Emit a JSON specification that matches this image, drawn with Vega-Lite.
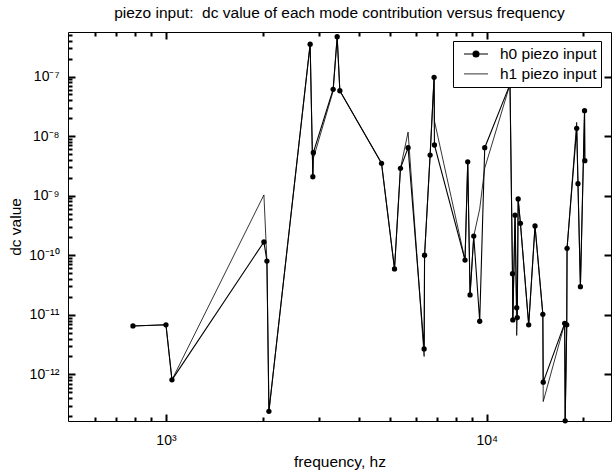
{
  "$schema": "https://vega.github.io/schema/vega-lite/v6.json",
  "width": 543,
  "height": 389,
  "autosize": {"type": "none"},
  "padding": {"left": 68, "top": 32, "right": 1, "bottom": 54},
  "background": "white",
  "config": {
    "font": "Liberation Sans",
    "view": {"stroke": "black", "strokeWidth": 1},
    "axis": {"grid": false, "domain": false, "tickColor": "#000000", "tickWidth": 2, "tickOpacity": 1, "labelColor": "black", "titleColor": "black", "labelFont": "Liberation Sans", "titleFont": "Liberation Sans", "labelFontSize": 14, "titleFontSize": 15.5, "titleFontWeight": "normal", "labelFlush": false, "labelOverlap": false}
  },
  "title": {"text": "piezo input: \u00a0dc value of each mode contribution versus frequency", "fontSize": 15.5, "fontWeight": "normal", "font": "Liberation Sans", "color": "black", "offset": 10},
  "data": {"values": [
    {"series": "h0 piezo input", "i": 1, "f": 789, "v": 6.5e-12},
    {"series": "h0 piezo input", "i": 2, "f": 1000, "v": 6.8e-12},
    {"series": "h0 piezo input", "i": 3, "f": 1044, "v": 8.1e-13},
    {"series": "h0 piezo input", "i": 4, "f": 2020, "v": 1.67e-10},
    {"series": "h0 piezo input", "i": 5, "f": 2064, "v": 8.0e-11},
    {"series": "h0 piezo input", "i": 6, "f": 2094, "v": 2.4e-13},
    {"series": "h0 piezo input", "i": 7, "f": 2815, "v": 3.5e-7},
    {"series": "h0 piezo input", "i": 8, "f": 2870, "v": 2.08e-9},
    {"series": "h0 piezo input", "i": 9, "f": 2880, "v": 5.27e-9},
    {"series": "h0 piezo input", "i": 10, "f": 3320, "v": 6.1e-8},
    {"series": "h0 piezo input", "i": 11, "f": 3418, "v": 4.66e-7},
    {"series": "h0 piezo input", "i": 12, "f": 3484, "v": 5.78e-8},
    {"series": "h0 piezo input", "i": 13, "f": 4699, "v": 3.5e-9},
    {"series": "h0 piezo input", "i": 14, "f": 5158, "v": 5.9e-11},
    {"series": "h0 piezo input", "i": 15, "f": 5383, "v": 2.88e-9},
    {"series": "h0 piezo input", "i": 16, "f": 5686, "v": 6.4e-9},
    {"series": "h0 piezo input", "i": 17, "f": 6380, "v": 2.68e-12},
    {"series": "h0 piezo input", "i": 18, "f": 6400, "v": 1.0e-10},
    {"series": "h0 piezo input", "i": 19, "f": 6660, "v": 4.8e-9},
    {"series": "h0 piezo input", "i": 20, "f": 6853, "v": 9.7e-8},
    {"series": "h0 piezo input", "i": 21, "f": 6870, "v": 7.1e-9},
    {"series": "h0 piezo input", "i": 22, "f": 8557, "v": 8.3e-11},
    {"series": "h0 piezo input", "i": 23, "f": 8725, "v": 3.7e-9},
    {"series": "h0 piezo input", "i": 24, "f": 8872, "v": 2.16e-11},
    {"series": "h0 piezo input", "i": 25, "f": 9110, "v": 2.1e-10},
    {"series": "h0 piezo input", "i": 26, "f": 9508, "v": 7.8e-12},
    {"series": "h0 piezo input", "i": 27, "f": 9857, "v": 6.4e-9},
    {"series": "h0 piezo input", "i": 28, "f": 11818, "v": 7.4e-8},
    {"series": "h0 piezo input", "i": 29, "f": 12030, "v": 4.9e-11},
    {"series": "h0 piezo input", "i": 30, "f": 12060, "v": 8.2e-12},
    {"series": "h0 piezo input", "i": 31, "f": 12254, "v": 4.7e-10},
    {"series": "h0 piezo input", "i": 32, "f": 12400, "v": 1.32e-11},
    {"series": "h0 piezo input", "i": 33, "f": 12450, "v": 9.0e-12},
    {"series": "h0 piezo input", "i": 34, "f": 12530, "v": 8.8e-10},
    {"series": "h0 piezo input", "i": 35, "f": 12735, "v": 3.44e-10},
    {"series": "h0 piezo input", "i": 36, "f": 13515, "v": 6.8e-12},
    {"series": "h0 piezo input", "i": 37, "f": 14142, "v": 3.1e-10},
    {"series": "h0 piezo input", "i": 38, "f": 14960, "v": 1.02e-11},
    {"series": "h0 piezo input", "i": 39, "f": 15000, "v": 7.4e-13},
    {"series": "h0 piezo input", "i": 40, "f": 17500, "v": 7.2e-12},
    {"series": "h0 piezo input", "i": 41, "f": 17560, "v": 1.66e-13},
    {"series": "h0 piezo input", "i": 42, "f": 17760, "v": 6.8e-12},
    {"series": "h0 piezo input", "i": 43, "f": 17800, "v": 1.31e-10},
    {"series": "h0 piezo input", "i": 44, "f": 19075, "v": 1.35e-8},
    {"series": "h0 piezo input", "i": 45, "f": 19250, "v": 1.59e-9},
    {"series": "h0 piezo input", "i": 46, "f": 19590, "v": 2.97e-11},
    {"series": "h0 piezo input", "i": 47, "f": 20180, "v": 2.67e-8},
    {"series": "h0 piezo input", "i": 48, "f": 20220, "v": 3.87e-9},
    {"series": "h1 piezo input", "i": 1, "f": 789, "v": 6.5e-12},
    {"series": "h1 piezo input", "i": 2, "f": 1000, "v": 6.8e-12},
    {"series": "h1 piezo input", "i": 3, "f": 1044, "v": 8.1e-13},
    {"series": "h1 piezo input", "i": 4, "f": 2020, "v": 1.03e-9},
    {"series": "h1 piezo input", "i": 5, "f": 2064, "v": 8.0e-11},
    {"series": "h1 piezo input", "i": 6, "f": 2094, "v": 2.4e-13},
    {"series": "h1 piezo input", "i": 7, "f": 2815, "v": 3.5e-7},
    {"series": "h1 piezo input", "i": 8, "f": 2870, "v": 2.08e-9},
    {"series": "h1 piezo input", "i": 9, "f": 2880, "v": 4.2e-9},
    {"series": "h1 piezo input", "i": 10, "f": 3320, "v": 5.7e-8},
    {"series": "h1 piezo input", "i": 11, "f": 3418, "v": 4.66e-7},
    {"series": "h1 piezo input", "i": 12, "f": 3484, "v": 5.78e-8},
    {"series": "h1 piezo input", "i": 13, "f": 4699, "v": 3.5e-9},
    {"series": "h1 piezo input", "i": 14, "f": 5158, "v": 5.9e-11},
    {"series": "h1 piezo input", "i": 15, "f": 5383, "v": 2.88e-9},
    {"series": "h1 piezo input", "i": 16, "f": 5686, "v": 1.17e-8},
    {"series": "h1 piezo input", "i": 17, "f": 6380, "v": 2.0e-12},
    {"series": "h1 piezo input", "i": 18, "f": 6400, "v": 1.0e-10},
    {"series": "h1 piezo input", "i": 19, "f": 6660, "v": 4.8e-9},
    {"series": "h1 piezo input", "i": 20, "f": 6853, "v": 9.7e-8},
    {"series": "h1 piezo input", "i": 21, "f": 6870, "v": 1.8e-8},
    {"series": "h1 piezo input", "i": 22, "f": 8557, "v": 8.3e-11},
    {"series": "h1 piezo input", "i": 23, "f": 8725, "v": 3.7e-9},
    {"series": "h1 piezo input", "i": 24, "f": 8872, "v": 2.16e-11},
    {"series": "h1 piezo input", "i": 25, "f": 9110, "v": 2.1e-10},
    {"series": "h1 piezo input", "i": 26, "f": 9508, "v": 6.0e-10},
    {"series": "h1 piezo input", "i": 27, "f": 9857, "v": 2.9e-9},
    {"series": "h1 piezo input", "i": 28, "f": 11818, "v": 7.4e-8},
    {"series": "h1 piezo input", "i": 29, "f": 12030, "v": 4.9e-11},
    {"series": "h1 piezo input", "i": 30, "f": 12060, "v": 8.2e-12},
    {"series": "h1 piezo input", "i": 31, "f": 12254, "v": 4.7e-10},
    {"series": "h1 piezo input", "i": 32, "f": 12400, "v": 4.5e-12},
    {"series": "h1 piezo input", "i": 33, "f": 12450, "v": 9.0e-12},
    {"series": "h1 piezo input", "i": 34, "f": 12530, "v": 8.8e-10},
    {"series": "h1 piezo input", "i": 35, "f": 12735, "v": 3.44e-10},
    {"series": "h1 piezo input", "i": 36, "f": 13515, "v": 6.8e-12},
    {"series": "h1 piezo input", "i": 37, "f": 14142, "v": 3.1e-10},
    {"series": "h1 piezo input", "i": 38, "f": 14960, "v": 1.02e-11},
    {"series": "h1 piezo input", "i": 39, "f": 15000, "v": 3.5e-13},
    {"series": "h1 piezo input", "i": 40, "f": 17500, "v": 7.2e-12},
    {"series": "h1 piezo input", "i": 41, "f": 17560, "v": 1.66e-13},
    {"series": "h1 piezo input", "i": 42, "f": 17760, "v": 6.8e-12},
    {"series": "h1 piezo input", "i": 43, "f": 17800, "v": 1.31e-10},
    {"series": "h1 piezo input", "i": 44, "f": 19075, "v": 1.7e-8},
    {"series": "h1 piezo input", "i": 45, "f": 19250, "v": 1.59e-9},
    {"series": "h1 piezo input", "i": 46, "f": 19590, "v": 2.97e-11},
    {"series": "h1 piezo input", "i": 47, "f": 20180, "v": 2.67e-8},
    {"series": "h1 piezo input", "i": 48, "f": 20220, "v": 3.87e-9}
  ]},
  "layer": [
    {
      "mark": {"type": "line"},
      "encoding": {
        "x": {"field": "f", "type": "quantitative",
          "scale": {"type": "log", "domain": [495, 24400], "nice": false},
          "axis": {"orient": "bottom", "title": "frequency, hz", "titlePadding": 7,
            "values": [1000, 10000], "offset": -7, "tickSize": 7, "labelPadding": 12,
            "tickColor": "#000000", "tickWidth": 2,
            "labelExpr": "datum.value < 5000 ? '10³' : '10⁴'"}},
        "y": {"field": "v", "type": "quantitative",
          "scale": {"type": "log", "domain": [1.65e-13, 5.6e-7], "nice": false},
          "axis": {"orient": "left", "title": "dc value", "titlePadding": 5,
            "values": [1e-12, 1e-11, 1e-10, 1e-9, 1e-8, 1e-7], "offset": -7, "tickSize": 7, "labelPadding": 9,
            "tickColor": "#000000", "tickWidth": 2,
            "labelExpr": "['10⁻¹²','10⁻¹¹','10⁻¹⁰','10⁻⁹','10⁻⁸','10⁻⁷'][round(log(datum.value)/LN10)+12]"}},
        "color": {"field": "series", "type": "nominal",
          "scale": {"range": ["black", "black"]},
          "legend": {"title": null, "orient": "none", "legendX": 385, "legendY": 9,
            "strokeColor": "black", "fillColor": "white", "padding": 4,
            "labelFont": "Liberation Sans", "labelFontSize": 15.5, "labelColor": "black",
            "labelExpr": "datum.label + '\u00a0\u00a0'",
            "symbolSize": 256, "symbolOffset": 10, "labelOffset": 15, "rowPadding": 2.4, "symbolStrokeWidth": 1,
            "symbolFillColor": "black", "symbolStrokeColor": "black",
            "encode": {"symbols": {"update": {
              "shape": {"signal": "datum.value == 'h0 piezo input' ? 'M-1.5,0L1.5,0M-0.375,0A0.375,0.375,0,1,0,0.375,0A0.375,0.375,0,1,0,-0.375,0Z' : 'M-1.5,0L1.5,0'"}}}}}},
        "strokeWidth": {"field": "series", "type": "ordinal", "scale": {"range": [1.1, 0.8]}, "legend": null},
        "order": {"field": "i", "type": "quantitative"}
      }
    },
    {
      "transform": [{"filter": "datum.series == 'h0 piezo input'"}],
      "mark": {"type": "point", "filled": true, "size": 28, "opacity": 1, "color": "black"},
      "encoding": {
        "x": {"field": "f", "type": "quantitative",
          "axis": {"orient": "bottom", "title": null, "labels": false, "offset": -4, "tickSize": 4,
            "tickColor": "#000000", "tickWidth": 2,
            "values": [600, 700, 800, 900, 2000, 3000, 4000, 5000, 6000, 7000, 8000, 9000, 20000]}},
        "y": {"field": "v", "type": "quantitative",
          "axis": {"orient": "left", "title": null, "labels": false, "offset": -4, "tickSize": 4,
            "tickColor": "#000000", "tickWidth": 2,
            "values": [2e-13, 3e-13, 4e-13, 5e-13, 6e-13, 7e-13, 8e-13, 9e-13, 2e-12, 3e-12, 4e-12, 5e-12, 6e-12, 7e-12, 8e-12, 9e-12, 2e-11, 3e-11, 4e-11, 5e-11, 6e-11, 7e-11, 8e-11, 9e-11, 2e-10, 3e-10, 4e-10, 5e-10, 6e-10, 7e-10, 8e-10, 9e-10, 2e-9, 3e-9, 4e-9, 5e-9, 6e-9, 7e-9, 8e-9, 9e-9, 2e-8, 3e-8, 4e-8, 5e-8, 6e-8, 7e-8, 8e-8, 9e-8, 2e-7, 3e-7, 4e-7, 5e-7]}}
      }
    },
    {
      "transform": [{"filter": "datum.series == 'h0 piezo input'"}],
      "mark": {"type": "point", "opacity": 0},
      "encoding": {
        "x": {"field": "f", "type": "quantitative",
          "axis": {"orient": "top", "title": null, "labels": false, "offset": -7, "tickSize": 7,
            "tickColor": "#000000", "tickWidth": 2,
            "values": [1000, 10000]}},
        "y": {"field": "v", "type": "quantitative",
          "axis": {"orient": "right", "title": null, "labels": false, "offset": -7, "tickSize": 7,
            "tickColor": "#000000", "tickWidth": 2,
            "values": [1e-12, 1e-11, 1e-10, 1e-9, 1e-8, 1e-7]}}
      }
    },
    {
      "transform": [{"filter": "datum.series == 'h0 piezo input'"}],
      "mark": {"type": "point", "opacity": 0},
      "encoding": {
        "x": {"field": "f", "type": "quantitative",
          "axis": {"orient": "top", "title": null, "labels": false, "offset": -4, "tickSize": 4,
            "tickColor": "#000000", "tickWidth": 2,
            "values": [600, 700, 800, 900, 2000, 3000, 4000, 5000, 6000, 7000, 8000, 9000, 20000]}},
        "y": {"field": "v", "type": "quantitative", "axis": null}
      }
    }
  ],
  "resolve": {"axis": {"x": "independent", "y": "independent"}}
}
